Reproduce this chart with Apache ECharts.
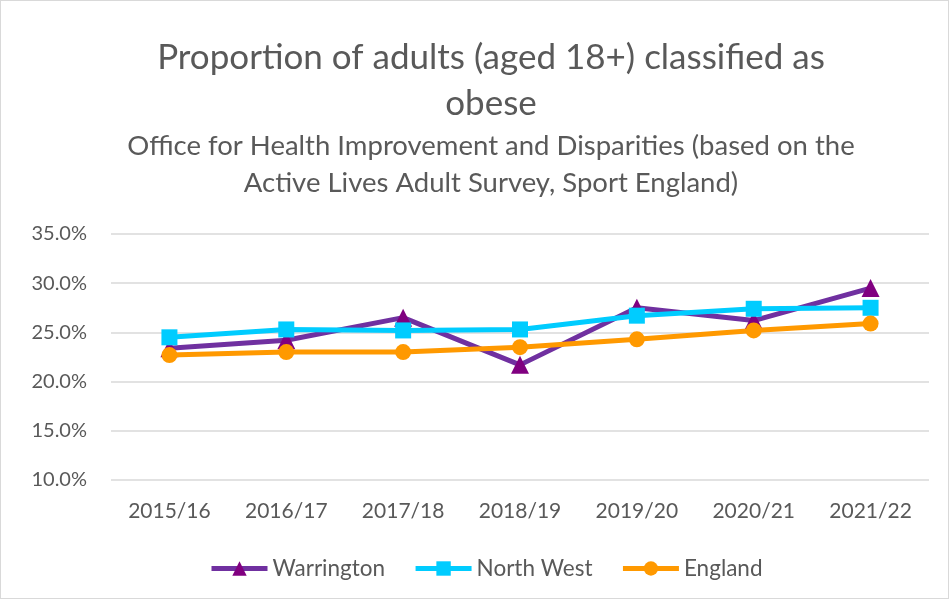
<!DOCTYPE html>
<html>
<head>
<meta charset="utf-8">
<script src="https://cdn.jsdelivr.net/npm/echarts@6/dist/echarts.min.js"></script>
<style>
  html, body { margin: 0; padding: 0; background: #fff; }
  #chart { width: 949px; height: 599px; box-sizing: border-box; border: 1px solid #d9d9d9; }
</style>
</head>
<body>
<div id="chart"></div>
<script>
// 数据
const years = ['2015/16', '2016/17', '2017/18', '2018/19', '2019/20', '2020/21', '2021/22']
const warrington = [23.4, 24.2, 26.5, 21.7, 27.5, 26.2, 29.5]
const northWest = [24.5, 25.3, 25.2, 25.3, 26.7, 27.4, 27.5]
const england = [22.7, 23.0, 23.0, 23.5, 24.3, 25.2, 25.9]

const font = 'Lato'
const grey = '#595959'

const myChart = echarts.init(document.getElementById('chart'))

const option = {
  title: [
    {
      text: 'Proportion of adults (aged 18+) classified as\nobese',
      left: 485,
      textAlign: 'center',
      top: 29,
      textStyle: { fontFamily: font, fontSize: 35, fontWeight: 'normal', color: grey, lineHeight: 46 }
    },
    {
      text: 'Office for Health Improvement and Disparities (based on the\nActive Lives Adult Survey, Sport England)',
      left: 485,
      textAlign: 'center',
      top: 122,
      textStyle: { fontFamily: font, fontSize: 27.5, fontWeight: 'normal', color: grey, lineHeight: 37 }
    }
  ],
  legend: {
    bottom: 13,
    left: 203,
    itemWidth: 56,
    itemHeight: 18,
    itemGap: 28,
    textStyle: { fontFamily: font, fontSize: 22.5, color: grey },
    lineStyle: { width: 5 },
    data: ['Warrington', 'North West', 'England']
  },
  grid: { left: 110, right: 19, top: 233, bottom: 118 },
  xAxis: {
    type: 'category',
    data: years,
    axisLine: { show: false },
    axisTick: { show: false },
    axisLabel: { fontFamily: font, fontSize: 21, color: grey, margin: 21 }
  },
  yAxis: {
    type: 'value',
    min: 10,
    max: 35,
    interval: 5,
    axisLine: { show: false },
    axisTick: { show: false },
    axisLabel: { fontFamily: font, fontSize: 20, color: grey, margin: 24, formatter: v => v.toFixed(1) + '%' },
    splitLine: { lineStyle: { color: '#d9d9d9', width: 1.5 } }
  },
  series: [
    {
      name: 'Warrington',
      type: 'line',
      data: warrington,
      symbol: 'triangle',
      symbolSize: 18,
      lineStyle: { color: '#7030A0', width: 5 },
      itemStyle: { color: '#800080' },
      z: 3
    },
    {
      name: 'North West',
      type: 'line',
      data: northWest,
      symbol: 'rect',
      symbolSize: 16,
      lineStyle: { color: '#00CCFF', width: 5 },
      itemStyle: { color: '#00CCFF' },
      z: 4
    },
    {
      name: 'England',
      type: 'line',
      data: england,
      symbol: 'circle',
      symbolSize: 16,
      lineStyle: { color: '#FF9900', width: 5 },
      itemStyle: { color: '#FF9900' },
      z: 5
    }
  ]
}
option && myChart.setOption(option)
</script>
</body>
</html>
